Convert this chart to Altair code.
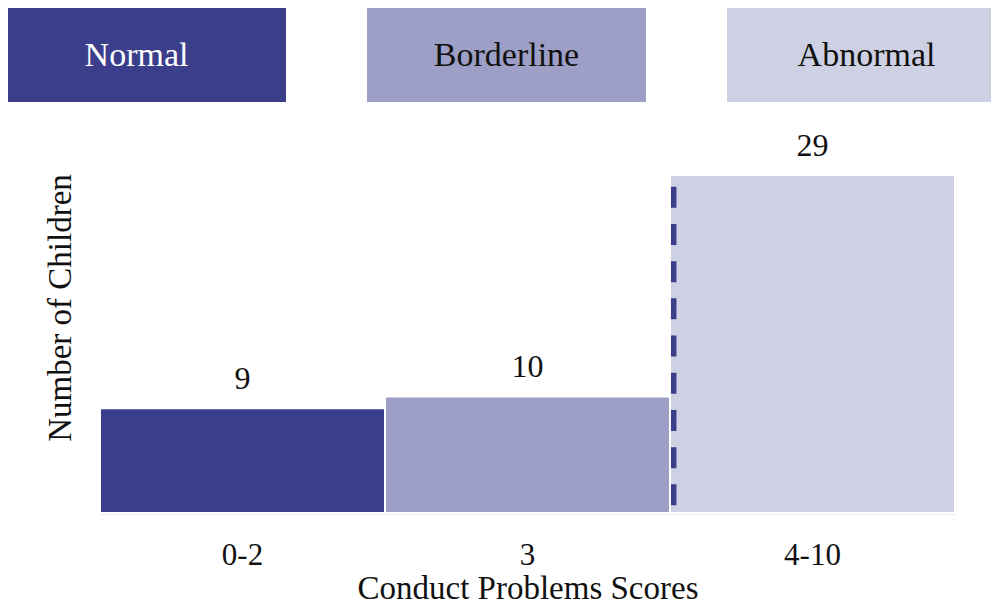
import altair as alt
import pandas as pd

# ---- data ----
score_bins = ["0-2", "3", "4-10"]
child_counts = [9, 10, 29]
bands = ["Normal", "Borderline", "Abnormal"]
band_colors = ["#3a3e8b", "#9d9fc6", "#ced1e4"]
band_text_colors = ["#ffffff", "#111111", "#111111"]
cutoff_bin = "4-10"
cutoff_top = 28
cutoff_bottom = 0

FONT = "Liberation Serif"

bars_df = pd.DataFrame({"bin": score_bins, "count": child_counts, "band": bands})
key_df = pd.DataFrame({"band": bands, "row": ["key"] * 3, "text_color": band_text_colors})
cut_df = pd.DataFrame({"bin": [cutoff_bin], "top": [cutoff_top], "bottom": [cutoff_bottom]})

color_scale = alt.Scale(domain=bands, range=band_colors)

# ---- key boxes along the top ----
key_x = alt.X(
    "band:N", sort=bands, axis=None,
    scale=alt.Scale(domain=bands, range=[-1, 998], paddingInner=0.225, paddingOuter=0),
)
key_y = alt.Y(
    "row:N", axis=None,
    scale=alt.Scale(domain=["key"], range=[-1, 94], paddingInner=0, paddingOuter=0),
)
key_boxes = alt.Chart(key_df).mark_rect().encode(
    x=key_x, y=key_y,
    color=alt.Color("band:N", scale=color_scale, legend=None),
)
key_text_first = (
    alt.Chart(key_df)
    .transform_filter(alt.datum.band == bands[0])
    .mark_text(font=FONT, fontSize=34, baseline="alphabetic", dy=11, dx=-10)
    .encode(x=key_x, y=key_y, text="band:N",
            color=alt.Color("text_color:N", scale=None, legend=None))
)
key_text_rest = (
    alt.Chart(key_df)
    .transform_filter(alt.datum.band != bands[0])
    .mark_text(font=FONT, fontSize=34, baseline="alphabetic", dy=11)
    .encode(x=key_x, y=key_y, text="band:N",
            color=alt.Color("text_color:N", scale=None, legend=None))
)
key = alt.layer(key_boxes, key_text_first, key_text_rest)

# ---- main bar chart ----
x_enc = alt.X(
    "bin:N", sort=score_bins,
    scale=alt.Scale(domain=score_bins, range=[92, 947], paddingInner=0, paddingOuter=0),
    axis=alt.Axis(
        title="Conduct Problems Scores", labelAngle=0, ticks=False, tickSize=0,
        domainColor="#d9d9d9", domainWidth=2,
        labelFont=FONT, labelFontSize=31, labelPadding=51, labelBaseline="alphabetic",
        labelColor="#111111",
        titleFont=FONT, titleFontSize=33, titleColor="#111111", titleFontWeight="normal",
        titleBaseline="alphabetic", titleY=85,
    ),
)
y_enc = alt.Y(
    "count:Q",
    scale=alt.Scale(domain=[0, 33], nice=False, range=[505, 120.5]),
    axis=alt.Axis(
        title="Number of Children", labels=False, ticks=False, domain=False, grid=False,
        titleFont=FONT, titleFontSize=33, titleFontWeight="normal", titleColor="#111111",
        titleX=62, titleY=299.5, titleAngle=-90, titleBaseline="alphabetic", titleAlign="center",
    ),
)

bars = alt.Chart(bars_df).mark_bar(stroke="white", strokeWidth=2).encode(
    x=x_enc, y=y_enc,
    color=alt.Color("band:N", scale=color_scale, legend=None),
)
cut = alt.Chart(cut_df).mark_rule(color="#3a3e8b", strokeWidth=5.5, strokeDash=[21, 16.2]).encode(
    x=alt.X("bin:N", bandPosition=0.013),
    y="top:Q",
    y2="bottom:Q",
)
labels = alt.Chart(bars_df).mark_text(
    font=FONT, fontSize=32, dy=-19, baseline="alphabetic", color="#111111"
).encode(x=x_enc, y=alt.Y("count:Q"), text="count:Q")

main = alt.layer(bars, cut, labels)

chart = (
    alt.layer(main, key)
    .resolve_scale(x="independent", y="independent", color="independent")
    .properties(
        width=983, height=505,
        padding={"left": 0, "top": 0, "right": 0, "bottom": 93},
        autosize=alt.AutoSizeParams(type="none"),
    )
    .configure(font=FONT)
    .configure_view(stroke=None)
)

chart.save("out.html", embed_options={"renderer": "svg", "actions": False})
